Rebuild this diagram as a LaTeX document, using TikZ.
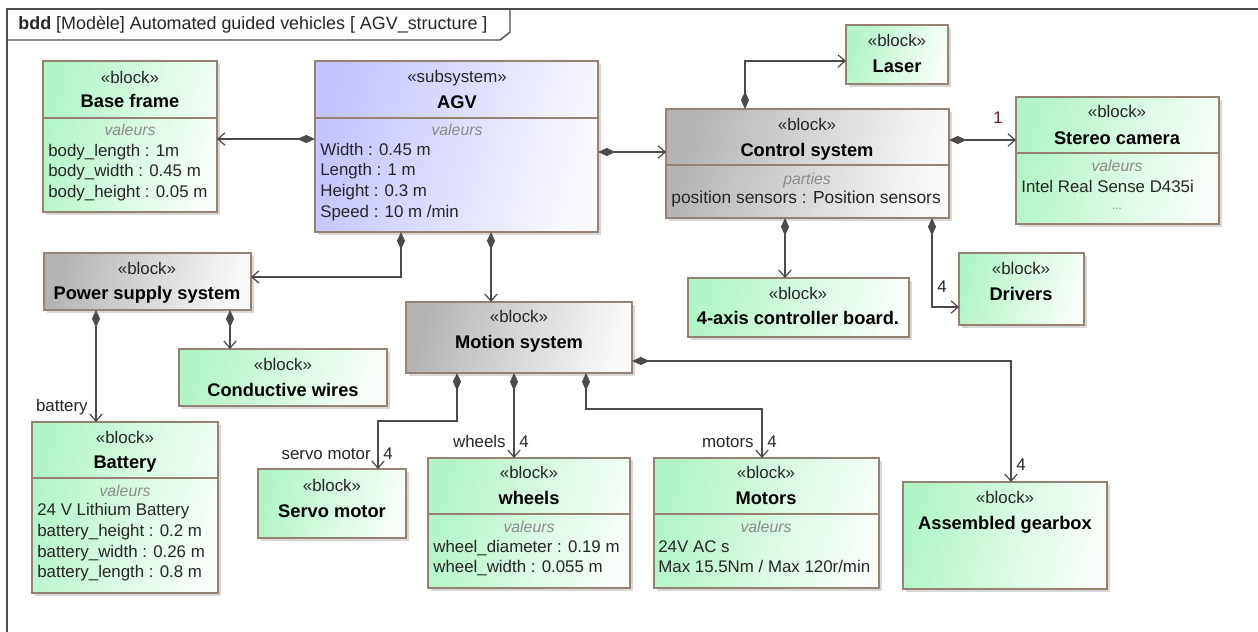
\documentclass[tikz,border=0pt]{standalone}
\usepackage{fontspec}
\setmainfont{Liberation Sans}
\usetikzlibrary{arrows.meta,fit,shadows}

\definecolor{blkline}{RGB}{150,130,115}
\definecolor{blkgreen}{RGB}{178,245,198}
\definecolor{blkgray}{RGB}{180,180,180}
\definecolor{blkviolet}{RGB}{196,196,255}
\definecolor{cnline}{RGB}{75,75,75}
\definecolor{multred}{RGB}{110,20,60}

\begin{document}
\begin{tikzpicture}[x=0.02cm, y=-0.02cm,
		blockbox/.style={draw=blkline, line width=0.8pt, inner sep=0pt, outer sep=0pt,
			drop shadow={shadow xshift=1.6pt, shadow yshift=-1.6pt, fill=black!30}},
		greenbox/.style={blockbox, left color=blkgreen, right color=blkgreen!8, shading angle=75},
		graybox/.style={blockbox, left color=blkgray, right color=blkgray!8, shading angle=75},
		violetbox/.style={blockbox, left color=blkviolet, right color=blkviolet!10, shading angle=75},
		divline/.style={draw=blkline, line width=0.8pt},
		txt/.style={inner sep=0pt, font=\fontsize{9.6}{11.6}\selectfont, text=black!85},
		stype/.style={txt, anchor=base},
		blkname/.style={inner sep=0pt, anchor=base, font=\fontsize{10.4}{12}\selectfont\bfseries},
		comptitle/.style={inner sep=0pt, anchor=base, text=black!45, font=\fontsize{9}{11}\selectfont\itshape},
		valline/.style={txt, anchor=base west},
		partof/.style={draw=cnline, line width=0.7pt, {Diamond[length=10pt,width=4.6pt]}-{Straight Barb[length=4pt,width=7pt]}},
		mult/.style={txt, anchor=base west},
		rolelbl/.style={txt, anchor=base east}]

		\useasboundingbox (0,0) rectangle (1258,632);

		% frame
		\draw [line width=0.8pt, draw=black!70] (1258,9) -- (7,9) -- (7,632);
		\draw [line width=0.8pt, draw=black!70] (7,40) -- (500,40) -- (510,32) -- (510,9);
		\node [txt, anchor=base west, font=\fontsize{10.2}{12}\selectfont] (title) at (18,30) {\textbf{bdd} [Modèle] Automated guided vehicles\ [ AGV\_structure ]};

		% blocks
		\node [greenbox, fit={(43,61) (217,212)}] (base) {};
		\node [violetbox, fit={(315,61) (598,232)}] (agv) {};
		\node [graybox, fit={(666,109) (949,218)}] (ctrl) {};
		\node [greenbox, fit={(846,25) (948,84)}] (laser) {};
		\node [greenbox, fit={(1016,97) (1219,224)}] (stereo) {};
		\node [graybox, fit={(44,253) (251,310)}] (pss) {};
		\node [greenbox, fit={(179,349) (387,406)}] (wires) {};
		\node [greenbox, fit={(32,422) (218,593)}] (battery) {};
		\node [graybox, fit={(406,302) (632,373)}] (motion) {};
		\node [greenbox, fit={(688,278) (909,337)}] (board) {};
		\node [greenbox, fit={(959,253) (1084,325)}] (drivers) {};
		\node [greenbox, fit={(258,469) (406,538)}] (servo) {};
		\node [greenbox, fit={(428,458) (630,588)}] (wheels) {};
		\node [greenbox, fit={(654,458) (879,588)}] (motors) {};
		\node [greenbox, fit={(903,482) (1107,589)}] (gearbox) {};

		\draw [divline] (base.west |- 0,118) -- (base.east |- 0,118);
		\draw [divline] (agv.west |- 0,118) -- (agv.east |- 0,118);
		\draw [divline] (ctrl.west |- 0,165) -- (ctrl.east |- 0,165);
		\draw [divline] (stereo.west |- 0,153) -- (stereo.east |- 0,153);
		\draw [divline] (battery.west |- 0,478) -- (battery.east |- 0,478);
		\draw [divline] (wheels.west |- 0,514) -- (wheels.east |- 0,514);
		\draw [divline] (motors.west |- 0,514) -- (motors.east |- 0,514);

		% texts
		\node [stype] (base-st) at (130,83) {«block»};
		\node [blkname] (base-nm) at (130,107) {Base frame};
		\node [comptitle] (base-vt) at (130,135) {valeurs};
		\node [valline] (base-v1) at (48,156) {body\_length : 1m};
		\node [valline] (base-v2) at (48,176) {body\_width : 0.45 m};
		\node [valline] (base-v3) at (48,197) {body\_height : 0.05 m};

		\node [stype] (agv-st) at (457,82) {«subsystem»};
		\node [blkname] (agv-nm) at (457,108) {AGV};
		\node [comptitle] (agv-vt) at (457,135) {valeurs};
		\node [valline] (agv-v1) at (320,155) {Width : 0.45 m};
		\node [valline] (agv-v2) at (320,175) {Length : 1 m};
		\node [valline] (agv-v3) at (320,196) {Height : 0.3 m};
		\node [valline] (agv-v4) at (320,217) {Speed : 10 m /min};

		\node [stype] (ctrl-st) at (807,130) {«block»};
		\node [blkname] (ctrl-nm) at (807,156) {Control system};
		\node [comptitle] (ctrl-pt) at (807,184) {parties};
		\node [valline, font=\fontsize{9.9}{11.6}\selectfont] (ctrl-p1) at (671,203) {position sensors : Position sensors};

		\node [stype] (laser-st) at (897,46) {«block»};
		\node [blkname] (laser-nm) at (897,72) {Laser};

		\node [stype] (stereo-st) at (1117,117) {«block»};
		\node [blkname] (stereo-nm) at (1117,144) {Stereo camera};
		\node [comptitle] (stereo-vt) at (1117,171) {valeurs};
		\node [valline] (stereo-v1) at (1021,192) {Intel Real Sense D435i};
		\node [inner sep=0pt, anchor=base, text=black!40, font=\fontsize{7}{8}\selectfont] (stereo-v2) at (1117,209) {...};

		\node [stype] (pss-st) at (147,274) {«block»};
		\node [blkname] (pss-nm) at (147,299) {Power supply system};

		\node [stype] (wires-st) at (283,370) {«block»};
		\node [blkname] (wires-nm) at (283,396) {Conductive wires};

		\node [stype] (battery-st) at (125,443) {«block»};
		\node [blkname] (battery-nm) at (125,468) {Battery};
		\node [comptitle] (battery-vt) at (125,496) {valeurs};
		\node [valline] (battery-v1) at (37,515) {24 V Lithium Battery};
		\node [valline] (battery-v2) at (37,536) {battery\_height : 0.2 m};
		\node [valline] (battery-v3) at (37,557) {battery\_width : 0.26 m};
		\node [valline] (battery-v4) at (37,577) {battery\_length : 0.8 m};

		\node [stype] (motion-st) at (519,322) {«block»};
		\node [blkname] (motion-nm) at (519,348) {Motion system};

		\node [stype] (board-st) at (798,299) {«block»};
		\node [blkname] (board-nm) at (798,324) {4-axis controller board.};

		\node [stype] (drivers-st) at (1021,274) {«block»};
		\node [blkname] (drivers-nm) at (1021,300) {Drivers};

		\node [stype] (servo-st) at (332,491) {«block»};
		\node [blkname] (servo-nm) at (332,517) {Servo motor};

		\node [stype] (wheels-st) at (529,478) {«block»};
		\node [blkname] (wheels-nm) at (529,504) {wheels};
		\node [comptitle] (wheels-vt) at (529,532) {valeurs};
		\node [valline] (wheels-v1) at (433,552) {wheel\_diameter : 0.19 m};
		\node [valline] (wheels-v2) at (433,572) {wheel\_width : 0.055 m};

		\node [stype] (motors-st) at (766,478) {«block»};
		\node [blkname] (motors-nm) at (766,504) {Motors};
		\node [comptitle] (motors-vt) at (766,532) {valeurs};
		\node [valline] (motors-v1) at (658,552) {24V AC s};
		\node [valline] (motors-v2) at (658,572) {Max 15.5Nm / Max 120r/min};

		\node [stype] (gearbox-st) at (1005,503) {«block»};
		\node [blkname] (gearbox-nm) at (1005,529) {Assembled gearbox};

		% connectors
		\draw [partof] (agv.west |- 0,139) -- (base.east |- 0,139);
		\draw [partof] (agv.east |- 0,152) -- (ctrl.west |- 0,152);
		\draw [partof] (agv.south -| 401,0) |- (pss.east |- 0,277);
		\draw [partof] (agv.south -| 491,0) -- (motion.north -| 491,0);
		\draw [partof] (ctrl.north -| 745,0) |- (laser.west |- 0,61);
		\draw [partof] (ctrl.east |- 0,140) -- (stereo.west |- 0,140);
		\draw [partof] (ctrl.south -| 785,0) -- (board.north -| 785,0);
		\draw [partof] (ctrl.south -| 932,0) |- (drivers.west |- 0,307);
		\draw [partof] (pss.south -| 96,0) -- (battery.north -| 96,0);
		\draw [partof] (pss.south -| 230,0) -- (wires.north -| 230,0);
		\draw [partof] (motion.south -| 457,0) -- ++(0,48) -| (servo.north -| 378,0);
		\draw [partof] (motion.south -| 514,0) -- (wheels.north -| 514,0);
		\draw [partof] (motion.south -| 586,0) -- ++(0,36) -| (motors.north -| 762,0);
		\draw [partof] (motion.east |- 0,361) -| (gearbox.north -| 1011,0);

		\node [mult, text=multred] (m-stereo) at (993,123) {1};
		\node [mult] (m-drivers) at (937,292) {4};
		\node [rolelbl] (r-battery) at (88,411) {battery};
		\node [rolelbl] (r-servo) at (371,459) {servo motor};
		\node [mult] (m-servo) at (383,459) {4};
		\node [rolelbl] (r-wheels) at (506,447) {wheels};
		\node [mult] (m-wheels) at (519,447) {4};
		\node [rolelbl] (r-motors) at (754,447) {motors};
		\node [mult] (m-motors) at (767,447) {4};
		\node [mult] (m-gearbox) at (1016,470) {4};

	\end{tikzpicture}
\end{document}
